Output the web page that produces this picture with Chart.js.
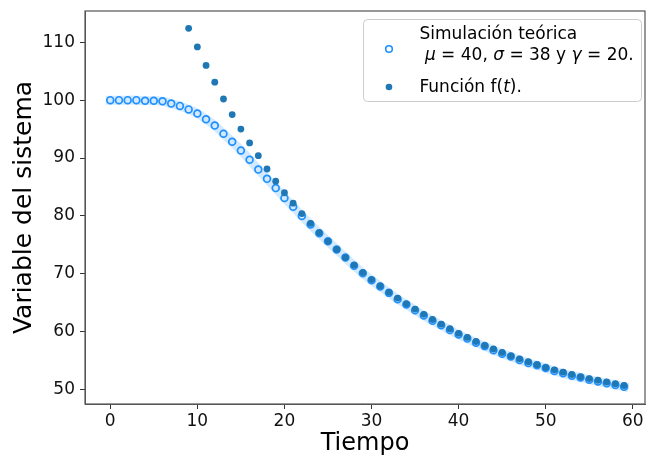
<!DOCTYPE html>
<html>
<head>
<meta charset="utf-8">
<script src="https://cdn.jsdelivr.net/npm/chart.js@4.4.0/dist/chart.umd.min.js"></script>
<style>
  html, body { margin: 0; padding: 0; background: #fff; }
  #wrap { width: 646px; height: 456px; }
</style>
</head>
<body>
<div id="wrap"><canvas id="chart" width="646" height="456"></canvas></div>
<script>
// tiempos de la simulación
const tiempoSim = [0, 1, 2, 3, 4, 5, 6, 7, 8, 9, 10, 11, 12, 13, 14, 15, 16, 17, 18, 19,
  20, 21, 22, 23, 24, 25, 26, 27, 28, 29, 30, 31, 32, 33, 34, 35, 36, 37, 38, 39,
  40, 41, 42, 43, 44, 45, 46, 47, 48, 49, 50, 51, 52, 53, 54, 55, 56, 57, 58, 59];
const valoresSim = [100.0, 100.0, 100.0, 100.0, 99.9, 99.9, 99.8, 99.4, 99.0, 98.4,
  97.7, 96.7, 95.6, 94.2, 92.8, 91.3, 89.7, 88.0, 86.4, 84.8,
  83.1, 81.6, 80.0, 78.5, 77.0, 75.6, 74.2, 72.8, 71.4, 70.1,
  68.9, 67.8, 66.7, 65.6, 64.7, 63.7, 62.8, 61.9, 61.1, 60.3,
  59.5, 58.8, 58.1, 57.5, 56.8, 56.2, 55.7, 55.1, 54.6, 54.2,
  53.7, 53.2, 52.8, 52.4, 52.1, 51.7, 51.4, 51.1, 50.8, 50.5];

// función f(t), desde t = 9
const tiempoF = [9, 10, 11, 12, 13, 14, 15, 16, 17, 18, 19,
  20, 21, 22, 23, 24, 25, 26, 27, 28, 29, 30, 31, 32, 33, 34, 35, 36, 37, 38, 39,
  40, 41, 42, 43, 44, 45, 46, 47, 48, 49, 50, 51, 52, 53, 54, 55, 56, 57, 58, 59];
const valoresF = [112.4, 109.2, 106.0, 103.1, 100.2, 97.5, 95.0, 92.6, 90.4, 88.1, 86.0,
  84.0, 82.2, 80.4, 78.7, 77.1, 75.6, 74.2, 72.8, 71.5, 70.2,
  69.0, 67.9, 66.8, 65.8, 64.8, 63.9, 63.0, 62.1, 61.3, 60.5,
  59.7, 59.0, 58.3, 57.6, 57.0, 56.4, 55.8, 55.3, 54.8, 54.3,
  53.8, 53.4, 53.0, 52.6, 52.2, 51.9, 51.6, 51.3, 51.0, 50.7];

const xTicks = [0, 10, 20, 30, 40, 50, 60];
const yTicks = [50, 60, 70, 80, 90, 100, 110];

const etiquetaSim = 'Simulación teórica';
const etiquetaF = 'Función f(t).';

const AZUL = '#1e90ff';
const AZUL_OSC = '#1f77b4';
const FUENTE = 'DejaVu Sans';

const puntos = (xs, ys) => xs.map((x, i) => ({x: x, y: ys[i]}));

// leyenda dibujada a mano (dos líneas y letras griegas en cursiva)
const leyenda = {
  id: 'leyenda',
  afterDraw(chart) {
    const ctx = chart.ctx;
    const area = chart.chartArea;
    const w = 278, h = 82;
    const x0 = area.right - 3.5 - w, y0 = area.top + 8.5;
    ctx.save();
    ctx.beginPath();
    ctx.roundRect(x0, y0, w, h, 4);
    ctx.fillStyle = 'rgba(255,255,255,0.8)';
    ctx.fill();
    ctx.strokeStyle = '#cccccc';
    ctx.lineWidth = 1;
    ctx.stroke();

    const mx = x0 + 25.5;
    // círculo hueco
    ctx.beginPath();
    ctx.arc(mx, y0 + 29.5, 3.3, 0, Math.PI * 2);
    ctx.strokeStyle = AZUL;
    ctx.lineWidth = 1.6;
    ctx.stroke();
    // punto relleno
    ctx.beginPath();
    ctx.arc(mx, y0 + 67.5, 3.3, 0, Math.PI * 2);
    ctx.fillStyle = AZUL_OSC;
    ctx.fill();

    const tx = x0 + 56;
    ctx.fillStyle = '#000';
    ctx.textBaseline = 'alphabetic';
    ctx.textAlign = 'left';
    const normal = '17px "' + FUENTE + '"';
    const cursiva = 'oblique 17px "' + FUENTE + '"';
    const tramos = (partes, x, y) => {
      partes.forEach(p => {
        ctx.font = p[1] ? cursiva : normal;
        ctx.fillText(p[0], x, y);
        x += ctx.measureText(p[0]).width;
      });
    };
    tramos([[etiquetaSim, false]], tx, y0 + 19.5);
    tramos([[' ', false], ['μ', true], [' = 40, ', false], ['σ', true], [' = 38 y ', false],
            ['γ', true], [' = 20.', false]], tx, y0 + 40.5);
    tramos([['Función f(', false], ['t', true], [').', false]], tx, y0 + 72);
    ctx.restore();
  }
};

// marco completo del área de datos
const marco = {
  id: 'marco',
  afterDatasetsDraw(chart) {
    const a = chart.chartArea;
    const ctx = chart.ctx;
    ctx.save();
    ctx.strokeStyle = '#555';
    ctx.lineWidth = 1.2;
    ctx.strokeRect(a.left, a.top, a.right - a.left, a.bottom - a.top);
    ctx.restore();
  }
};

new Chart(document.getElementById('chart'), {
  type: 'scatter',
  data: {
    datasets: [
      {
        label: etiquetaF,
        data: puntos(tiempoF, valoresF),
        pointRadius: 3.4,
        pointBackgroundColor: AZUL_OSC,
        pointBorderWidth: 0,
        order: 0
      },
      {
        label: etiquetaSim,
        data: puntos(tiempoSim, valoresSim),
        pointRadius: 3.4,
        pointBackgroundColor: 'rgba(0,0,0,0)',
        pointBorderColor: AZUL,
        pointBorderWidth: 1.7,
        order: 1
      },
      {
        // banda clara detrás de la simulación
        label: 'banda',
        data: puntos(tiempoSim, valoresSim),
        showLine: true,
        pointRadius: 0,
        borderColor: 'rgba(30,144,255,0.2)',
        borderWidth: 9,
        borderCapStyle: 'square',
        tension: 0.3,
        order: 2
      }
    ]
  },
  options: {
    responsive: false,
    animation: false,
    devicePixelRatio: 1,
    layout: { autoPadding: false, padding: { top: 11, right: 1, left: 0, bottom: 0 } },
    plugins: {
      legend: { display: false },
      tooltip: { enabled: false }
    },
    scales: {
      x: {
        type: 'linear',
        min: -2.9,
        max: 61.4,
        afterFit: s => { s.height = 52; s.paddingLeft = 0; s.paddingRight = 0; },
        afterBuildTicks: s => { s.ticks = xTicks.map(v => ({value: v})); },
        grid: { drawOnChartArea: false, tickLength: 5, color: '#333' },
        border: { color: '#555' },
        ticks: { font: { family: FUENTE, size: 17 }, color: '#111', padding: 2, maxRotation: 0 },
        title: { display: true, text: 'Tiempo', font: { family: FUENTE, size: 24 }, color: '#000', padding: { bottom: -2 } }
      },
      y: {
        type: 'linear',
        min: 47.5,
        max: 115.4,
        afterFit: s => { s.width = 85; s.paddingTop = 0; s.paddingBottom = 0; },
        afterBuildTicks: s => { s.ticks = yTicks.map(v => ({value: v})); },
        grid: { drawOnChartArea: false, tickLength: 5, color: '#333' },
        border: { color: '#555' },
        ticks: { font: { family: FUENTE, size: 17 }, color: '#111', padding: 5 },
        title: { display: true, text: 'Variable del sistema', font: { family: FUENTE, size: 25 }, color: '#000', padding: { top: 9 } }
      }
    }
  },
  plugins: [marco, leyenda]
});
</script>
</body>
</html>
